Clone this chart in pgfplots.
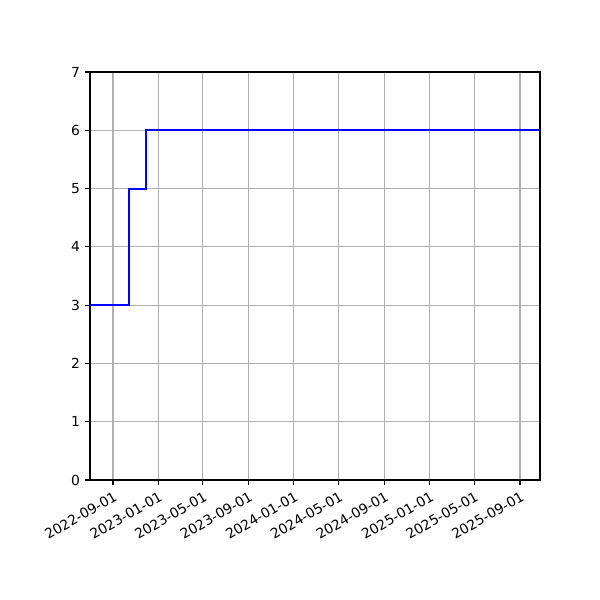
\documentclass[border=0pt]{standalone}
\usepackage{fontspec}
\setmainfont{DejaVu Sans}
\usepackage{pgfplots}
\pgfplotsset{compat=1.18}
\begin{document}
\begin{tikzpicture}
\path[use as bounding box, fill=white] (0,0) rectangle (6in,6in);
\begin{axis}[
    at={(0.9in,1.2in)}, anchor=south west,
    scale only axis,
    width=4.5in, height=4.08in,
    % x = days since 2022-09-01
    xmin=-62, xmax=1150,
    ymin=0, ymax=7,
    xtick={0,122,242,365,487,608,731,853,973,1096},
    xticklabels={2022-09-01,2023-01-01,2023-05-01,2023-09-01,2024-01-01,2024-05-01,2024-09-01,2025-01-01,2025-05-01,2025-09-01},
    ytick={0,1,2,3,4,5,6,7},
    xtick pos=bottom, ytick pos=left,
    tick align=outside,
    major tick length=3.5pt,
    every tick/.style={black, line width=0.8pt},
    axis line style={line width=0.8pt},
    grid=major,
    major grid style={color=black!31, line width=0.8pt},
    tick label style={font=\fontsize{10}{12}\selectfont},
    /pgf/number format/assume math mode=true,
    xticklabel style={rotate=30, anchor=north east, inner sep=0pt, yshift=-3.5pt, xshift=-2pt},
    yticklabel style={anchor=east, inner sep=0pt, xshift=-3.5pt},
]
\addplot[const plot, color=blue, line width=1.5pt] coordinates {
    (-62,3) (42,5) (89,6) (1150,6)
};
\end{axis}
\end{tikzpicture}
\end{document}
